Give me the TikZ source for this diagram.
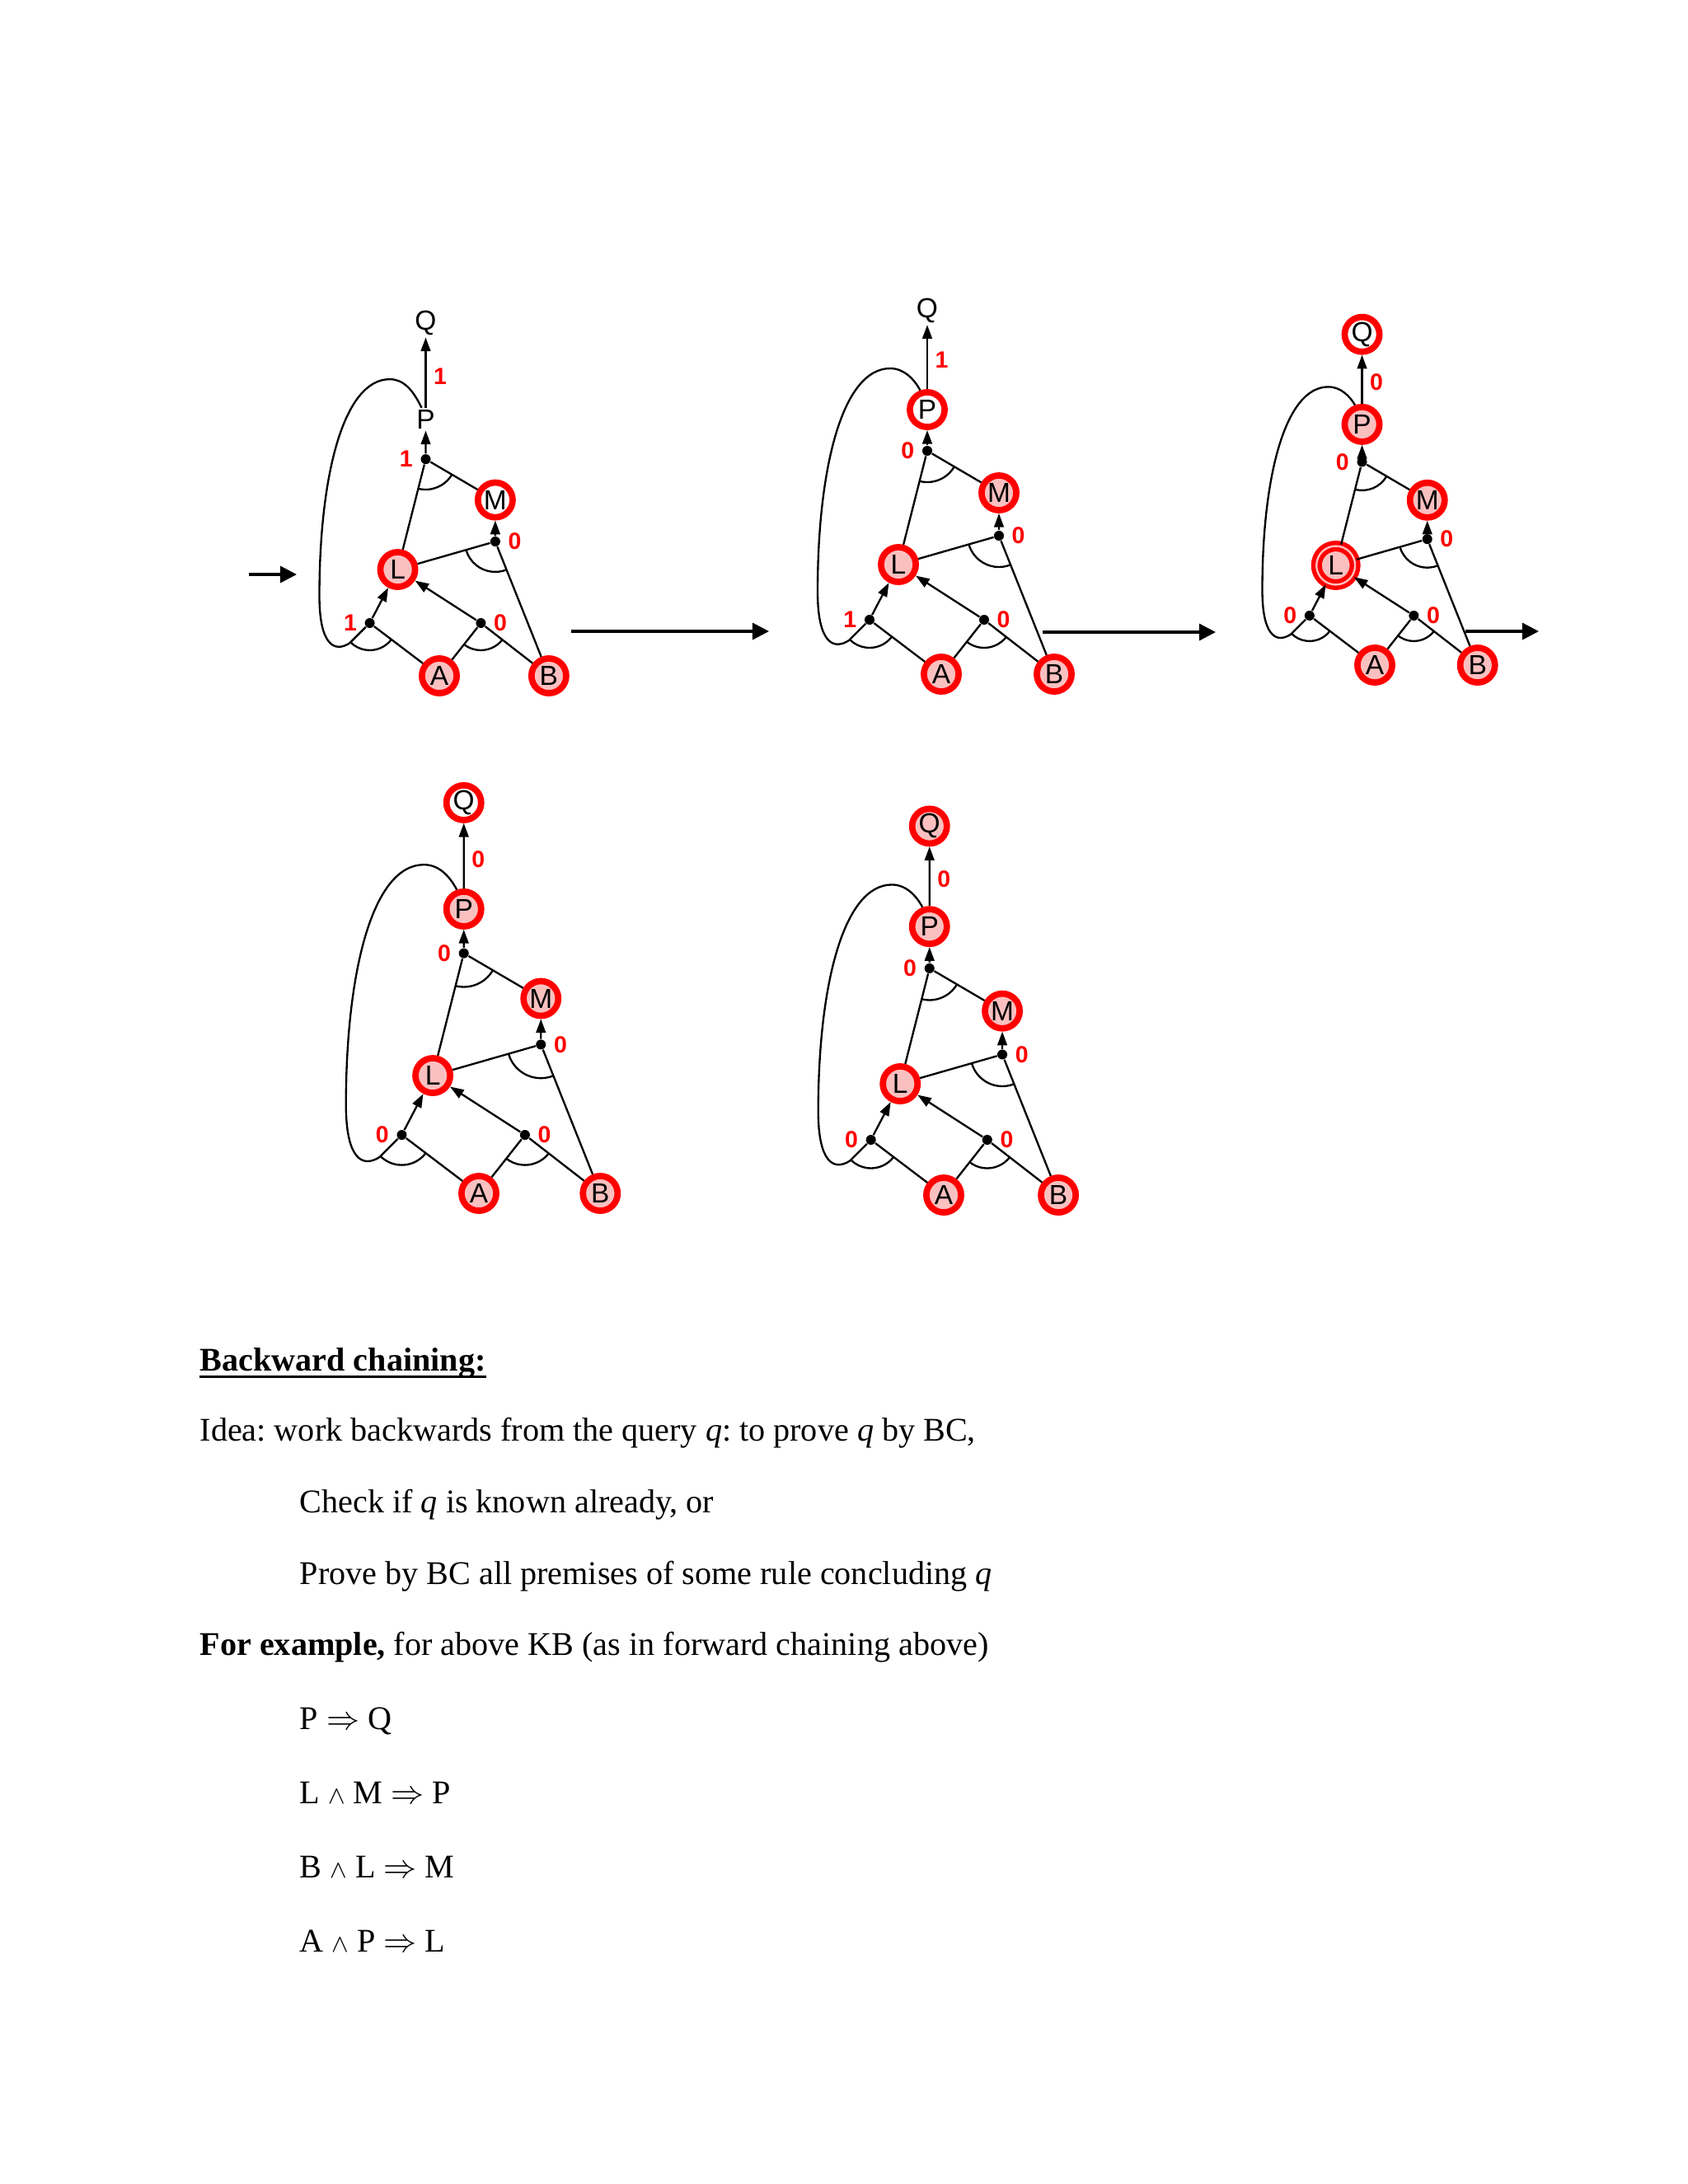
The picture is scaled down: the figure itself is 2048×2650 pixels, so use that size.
\documentclass[tikz,border=0pt]{standalone}
\usepackage{fontspec}
\setmainfont{Liberation Serif}
\newfontfamily\helv{Liberation Sans}
\usetikzlibrary{arrows.meta,positioning}
\definecolor{kbpink}{RGB}{250,192,192}

\tikzset{
  kbdot/.style={circle,fill=black,inner sep=0pt,minimum size=3.6pt},
  kbtext/.style={inner sep=0.5pt,font=\helv\fontsize{10}{11}\selectfont},
  kbring/.style={kbtext,circle,draw=red,line width=2.3pt,fill=white,minimum size=12.6pt,inner sep=0pt},
  kbfact/.style={kbring,fill=kbpink},
  kbnew/.style={kbfact,line width=1.6pt,double=red!25,double distance=0.7pt,minimum size=14pt},
  kbnum/.style={inner sep=0.5pt,text=red,font=\helv\bfseries\fontsize{8.5}{9}\selectfont},
  kbarr/.style={-{Triangle[length=5pt,width=3.5pt]}},
  pagearr/.style={line width=1pt,-{Triangle[length=6pt,width=6pt]}},
  body/.style={anchor=base west,inner sep=0pt,font=\fontsize{12}{14}\selectfont\frenchspacing}
}

% one and-or graph of the KB; #1 = P->Q count, #2..#5 = counts at the and-dots
\newcommand{\kbgraph}[5]{%
  \node[kbfact] (A) at (0,0) {A};
  \node[kbfact] (B) at (137,0) {B};
  \node[lstyle] (L) at (-52,-133) {L};
  \node[mstyle] (M) at (70,-220) {M};
  \node[pstyle] (P) at (-17,-321) {P};
  \node[qstyle] (Q) at (-17,-441) {Q};
  \node[kbdot] (pd) at (-17,-271) {};
  \node[kbdot] (md) at (70,-168) {};
  \node[kbdot] (d1) at (-87,-66) {};
  \node[kbdot] (d2) at (52,-66) {};
  \begin{scope}[line width=0.7pt]
  \draw[kbarr] (P) -- node[kbnum,right=2pt,pos=0.45] (pqv) {#1} (Q);
  \draw[kbarr] (pd) -- (P);
  \draw[kbarr] (md) -- (M);
  \draw[kbarr] (d1) -- (L);
  \draw[kbarr] (d2) -- (L);
  \draw (L) -- (pd) -- (M);
  \draw (L) -- (md) -- (B);
  \draw (A) -- (d1);
  \draw (A) -- (d2) -- (B);
  \draw (d1) -- (-112,-41) .. controls (-132,-28) and (-150,-40) .. (-150,-100)
    .. controls (-150,-250) and (-120,-371) .. (-62,-371)
    .. controls (-45,-371) and (-33,-358) .. (P.110);
  % and-arcs
  \draw (pd) ++(30.4:38) arc[start angle=30.4,end angle=104.2,radius=38];
  \draw (md) ++(68.3:38) arc[start angle=68.3,end angle=164,radius=38];
  \draw (d1) ++(37.2:34) arc[start angle=37.2,end angle=135,radius=34];
  \draw (d2) ++(37.8:34) arc[start angle=37.8,end angle=128.2,radius=34];
  \end{scope}
  % counts
  \path (pd) node[kbnum,left=4pt] (pdv) {#2};
  \path (md) node[kbnum,right=4pt] (mdv) {#3};
  \path (d1) node[kbnum,left=4pt] (d1v) {#4};
  \path (d2) node[kbnum,right=4pt] (d2v) {#5};
}

\newcommand{\kband}{{\fontsize{9}{10}\selectfont$\wedge$}}

\begin{document}
\begin{tikzpicture}[x=0.2988pt,y=-0.2988pt]
  \useasboundingbox (0,0) rectangle (2048,2650);

  \begin{scope}[shift={(533,820)},scale=0.97,name prefix=s1-,
      qstyle/.style=kbtext,pstyle/.style=kbtext,mstyle/.style=kbring,lstyle/.style=kbfact]
    \kbgraph{1}{1}{0}{1}{0}
  \end{scope}
  \begin{scope}[shift={(1142,818)},name prefix=s2-,
      qstyle/.style=kbtext,pstyle/.style=kbring,mstyle/.style=kbfact,lstyle/.style=kbfact]
    \kbgraph{1}{0}{0}{1}{0}
  \end{scope}
  \begin{scope}[shift={(1668,807)},scale=0.91,name prefix=s3-,
      qstyle/.style=kbring,pstyle/.style=kbfact,mstyle/.style=kbfact,lstyle/.style=kbnew]
    \kbgraph{0}{0}{0}{0}{0}
  \end{scope}
  \begin{scope}[shift={(581,1448)},scale=1.075,name prefix=s4-,
      qstyle/.style=kbring,pstyle/.style=kbfact,mstyle/.style=kbfact,lstyle/.style=kbfact]
    \kbgraph{0}{0}{0}{0}{0}
  \end{scope}
  \begin{scope}[shift={(1145,1450)},scale=1.015,name prefix=s5-,
      qstyle/.style=kbfact,pstyle/.style=kbfact,mstyle/.style=kbfact,lstyle/.style=kbfact]
    \kbgraph{0}{0}{0}{0}{0}
  \end{scope}

  % step arrows
  \coordinate (go0) at (302,697);  \coordinate (go0e) at (360,697);
  \coordinate (go1) at (693,766);  \coordinate (go1e) at (933,766);
  \coordinate (go2) at (1265,767); \coordinate (go2e) at (1475,767);
  \coordinate (go3) at (1778,766); \coordinate (go3e) at (1867,766);
  \draw[pagearr] (go0) -- (go0e);
  \draw[pagearr] (go1) -- (go1e);
  \draw[pagearr] (go2) -- (go2e);
  \draw[pagearr] (go3) -- (go3e);

  % text below
  \node[body] (title) at (242,1663) {\bfseries Backward chaining:};
  \draw[line width=0.9pt] ([yshift=-2.2pt]title.base west) -- ([yshift=-2.2pt]title.base east);
  \node[body] (idea) at (242,1748) {Idea: work backwards from the query \textit{q}: to prove \textit{q} by BC,};
  \node[body] (check) at (363,1835) {Check if \textit{q} is known already, or};
  \node[body] (prove) at (363,1922) {Prove by BC all premises of some rule concluding \textit{q}};
  \node[body] (forex) at (242,2008) {\textbf{For example,} for above KB (as in forward chaining above)};
  \node[body] (rule1) at (363,2098) {P $\Rightarrow$ Q};
  \node[body] (rule2) at (363,2188) {L \kband{} M $\Rightarrow$ P};
  \node[body] (rule3) at (363,2278) {B \kband{} L $\Rightarrow$ M};
  \node[body] (rule4) at (363,2368) {A \kband{} P $\Rightarrow$ L};
\end{tikzpicture}
\end{document}
